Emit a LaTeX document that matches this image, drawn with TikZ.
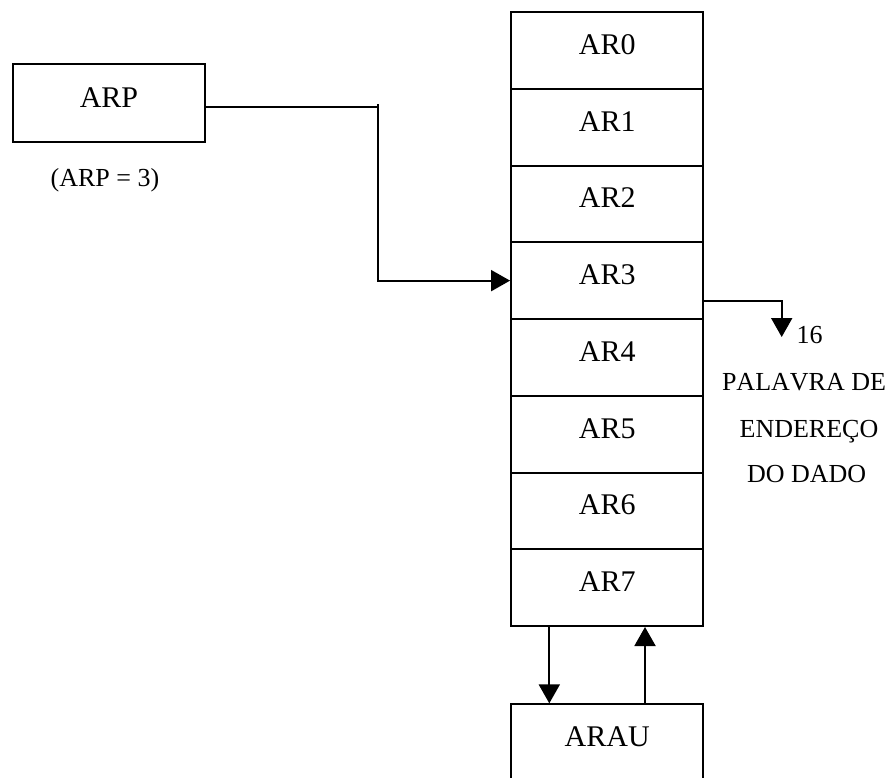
\documentclass[tikz,border=0pt]{standalone}
\usepackage{fontspec}
\setmainfont{Liberation Serif}[Kerning=Off]
\usetikzlibrary{arrows.meta}
\begin{document}
\begin{tikzpicture}[x=1pt,y=-1pt,
  cell/.style={draw, line width=2pt, minimum width=192.3pt, minimum height=76.75pt, inner sep=0pt,
    font=\fontsize{30}{36}\selectfont, text height=20pt, text depth=12pt},
  lbl/.style={font=\fontsize{26}{31}\selectfont, inner sep=0pt, anchor=base},
  conn/.style={line width=2pt},
  tip/.style={-{Triangle[length=19pt,width=21pt]}}]
\useasboundingbox (0,0) rectangle (893,777);
\clip (0,0) rectangle (893,777);
\foreach \i in {0,...,7}
  \node[cell] (AR\i) at (607.2, {12+76.75*(\i+0.5)}) {AR\i};
\node[cell, minimum width=192.6pt, minimum height=78pt] (ARP) at (109,103.3) {ARP};
\node[cell] (ARAU) at (607.2,742.7) {ARAU};
\node[lbl] (eq) at (105,186.5) {(ARP = 3)};
\node[lbl] (n16) at (809.7,343.3) {16};
\node[lbl] (t1) at (804,390) {PALAVRA DE};
\node[lbl] (t2) at (809,437) {ENDEREÇO};
\node[lbl] (t3) at (806.7,482) {DO DADO};
\coordinate (k) at (377.7,106.7);
\coordinate (ktop) at (377.7,104);
\coordinate (d) at (781.7,337);
\draw[conn] ([yshift=-3.4pt]ARP.east) -- (k);
\draw[conn,tip] (ktop) |- (AR3.west);
\draw[conn,tip] ([yshift=-20.1pt]AR3.east) -| (d);
\draw[conn,tip] ([xshift=-57.9pt]AR7.south) -- ([xshift=-57.9pt]ARAU.north);
\draw[conn,tip] ([xshift=37.8pt]ARAU.north) -- ([xshift=37.8pt]AR7.south);
\end{tikzpicture}
\end{document}
